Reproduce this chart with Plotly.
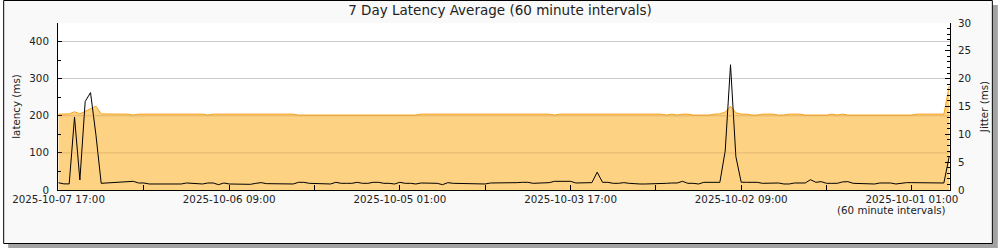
import pandas as pd
import plotly.graph_objects as go

# hourly samples, newest (left) to oldest (right)
times = pd.date_range(end="2025-10-07 17:00", periods=168, freq="h")[::-1]

latency_ms = [
    204.5, 204.5, 205, 211, 205, 212, 219, 226, 205, 204.5, 204.5, 204.5,
    204.5, 204.5, 202, 204.5, 204.5, 204.5, 204.5, 204.5, 204.5, 204.5, 204.5, 204.5,
    204.5, 204.5, 204.5, 204.5, 202, 204.5, 204.5, 204.5, 204.5, 204.5, 204.5, 204.5,
    204.5, 204.5, 204.5, 204.5, 204.5, 204.5, 204.5, 204.5, 204.5, 202, 202, 202,
    202, 202, 202, 202, 202, 202, 202, 202, 202, 202, 202, 202,
    202, 202, 202, 202, 202, 202, 202, 202, 204.5, 204.5, 204.5, 204.5,
    204.5, 204.5, 204.5, 204.5, 204.5, 204.5, 204.5, 204.5, 204.5, 204.5, 204.5, 204.5,
    204.5, 204.5, 204.5, 204.5, 204.5, 204.5, 204.5, 204.5, 204.5, 202, 204.5, 204.5,
    204.5, 204.5, 204.5, 204.5, 204.5, 204.5, 204.5, 204.5, 204.5, 204.5, 204.5, 204.5,
    204.5, 204.5, 204.5, 204.5, 204.5, 204.5, 202, 204.5, 202, 204.5, 204.5, 202,
    202, 202, 202, 204.5, 205, 210, 226, 208, 204.5, 204.5, 202, 202,
    204.5, 204.5, 204.5, 202, 202, 204.5, 204.5, 204.5, 202, 202, 202, 202,
    202, 204.5, 202, 204.5, 202, 202, 202, 202, 202, 202, 202, 202,
    202, 202, 202, 202, 202, 204.5, 204.5, 204.5, 204.5, 204.5, 204.5, 280,
]

jitter_ms = [
    1.3, 1.1, 1.1, 13.1, 1.8, 15.9, 17.5, 10.0, 1.2, 1.26, 1.26, 1.38,
    1.38, 1.38, 1.56, 1.26, 1.26, 1.08, 1.08, 1.08, 1.08, 1.08, 1.08, 1.08,
    1.26, 1.2, 1.08, 1.08, 1.26, 1.26, 0.96, 1.26, 1.08, 1.08, 1.02, 1.02,
    1.02, 1.2, 1.32, 1.14, 1.14, 1.14, 1.08, 1.08, 1.08, 1.38, 1.38, 1.2,
    1.2, 1.2, 1.2, 1.08, 1.38, 1.2, 1.2, 1.2, 1.38, 1.2, 1.2, 1.38,
    1.38, 1.2, 1.2, 1.08, 1.38, 1.2, 1.2, 1.08, 1.26, 1.26, 1.2, 1.2,
    0.96, 1.32, 1.2, 1.2, 1.2, 1.2, 1.2, 1.2, 1.08, 1.26, 1.26, 1.2,
    1.32, 1.32, 1.32, 1.38, 1.38, 1.2, 1.2, 1.32, 1.32, 1.56, 1.56, 1.56,
    1.56, 1.26, 1.26, 1.32, 1.32, 3.2, 1.38, 1.38, 1.2, 1.2, 1.32, 1.2,
    1.08, 1.08, 1.08, 1.08, 1.08, 1.2, 1.2, 1.26, 1.26, 1.56, 1.2, 1.2,
    1.08, 1.38, 1.38, 1.38, 1.38, 7.0, 22.5, 6.0, 1.4, 1.38, 1.38, 1.38,
    1.2, 1.2, 1.26, 1.26, 1.08, 1.08, 1.26, 1.26, 1.26, 1.85, 1.38, 1.5,
    1.2, 1.2, 1.2, 1.45, 1.5, 1.2, 1.2, 1.08, 1.08, 1.08, 1.26, 1.26,
    1.26, 1.08, 1.26, 1.32, 1.32, 1.32, 1.32, 1.32, 1.26, 1.26, 1.26, 6.0,
]

x_tick_times = [
    "2025-10-07 17:00", "2025-10-07 01:00", "2025-10-06 09:00", "2025-10-05 17:00",
    "2025-10-05 01:00", "2025-10-04 09:00", "2025-10-03 17:00", "2025-10-03 01:00",
    "2025-10-02 09:00", "2025-10-01 17:00", "2025-10-01 01:00",
]
x_tick_text = [
    "2025-10-07 17:00", "", "2025-10-06 09:00", "", "2025-10-05 01:00", "",
    "2025-10-03 17:00", "", "2025-10-02 09:00", "", "2025-10-01 01:00",
]
lat_ticks = [0, 100, 200, 300, 400]
jit_ticks = [0, 5, 10, 15, 20, 25, 30]

assert len(latency_ms) == 168 and len(jitter_ms) == 168

W, H = 1000, 250
L, R, T, B = 55, 50, 23, 60
PW, PH = W - L - R, H - T - B


def px(x):
    return (x - L) / PW


def py(y):
    return (H - B - y) / PH


FONT = "DejaVu Sans"
TXT = "#222222"
FS = 10.3

fig = go.Figure()
fig.add_trace(go.Scatter(
    x=times, y=latency_ms, mode="lines", fill="tozeroy",
    fillcolor="#FDD283", line=dict(color="#F7A31C", width=1),
    showlegend=False, hoverinfo="skip",
))
fig.add_trace(go.Scatter(
    x=times, y=jitter_ms, mode="lines", yaxis="y2",
    line=dict(color="#000000", width=1),
    showlegend=False, hoverinfo="skip",
))

shapes = [
    dict(type="rect", xref="paper", yref="paper", x0=px(5), x1=px(998), y0=py(248), y1=py(5),
         fillcolor="#A3A3A3", line=dict(width=0), layer="below"),
    dict(type="rect", xref="paper", yref="paper", x0=px(0.5), x1=px(992.5), y0=py(243.5), y1=py(0.5),
         fillcolor="#F9F9F9", line=dict(color="#000000", width=1), layer="below"),
    dict(type="rect", xref="paper", yref="paper", x0=0, x1=1, y0=0, y1=1,
         fillcolor="#FFFFFF", line=dict(width=0), layer="below"),
]
for g in (100, 200):
    shapes.append(dict(type="line", xref="paper", yref="y", x0=0, x1=1, y0=g, y1=g,
                       line=dict(color="rgba(179,127,63,0.33)", width=1), layer="above"))

fig.update_layout(
    width=W, height=H,
    margin=dict(l=L, r=R, t=T, b=B, pad=0),
    paper_bgcolor="#FFFFFF", plot_bgcolor="rgba(0,0,0,0)",
    font=dict(family=FONT, size=FS, color=TXT),
    title=dict(text="7 Day Latency Average (60 minute intervals)", x=0.5, xanchor="center",
               xref="container", y=1 - 10.5 / H, yanchor="middle", yref="container",
               font=dict(family=FONT, size=13.5, color=TXT)),
    showlegend=False,
    shapes=shapes,
    xaxis=dict(
        type="date", range=["2025-10-07 17:06", "2025-09-30 17:51"],
        tickvals=x_tick_times, ticktext=x_tick_text, tickangle=0,
        ticks="inside", ticklen=5, tickcolor="#000000", tickwidth=1,
        showline=True, linecolor="#000000", linewidth=1,
        showgrid=False, zeroline=False,
        tickfont=dict(family=FONT, size=FS, color=TXT),
    ),
    yaxis=dict(
        range=[0, 450], tickvals=lat_ticks,
        ticks="inside", ticklen=4, tickcolor="#000000", tickwidth=1,
        ticklabelstandoff=6,
        minor=dict(dtick=50, tick0=0, ticks="inside", ticklen=3, tickcolor="#000000", showgrid=False),
        showline=True, linecolor="#000000", linewidth=1,
        showgrid=True, gridcolor="#CBCBCB", gridwidth=1, zeroline=False,
        title=dict(text="latency (ms)", font=dict(family=FONT, size=FS, color=TXT), standoff=6),
        tickfont=dict(family=FONT, size=FS, color=TXT),
    ),
    yaxis2=dict(
        overlaying="y", side="right", range=[0, 30], tickvals=jit_ticks,
        ticks="inside", ticklen=5, tickcolor="#000000", tickwidth=1,
        ticklabelstandoff=5,
        minor=dict(dtick=1, tick0=0, ticks="inside", ticklen=3, tickcolor="#000000", showgrid=False),
        showline=True, linecolor="#000000", linewidth=1,
        showgrid=False, zeroline=False,
        title=dict(text="Jitter (ms)", font=dict(family=FONT, size=FS, color=TXT), standoff=10),
        tickfont=dict(family=FONT, size=FS, color=TXT),
    ),
    annotations=[dict(
        text="(60 minute intervals)", xref="paper", yref="paper",
        x=px(948), y=py(210), xanchor="right", yanchor="middle", showarrow=False,
        font=dict(family=FONT, size=FS, color=TXT),
    )],
)

fig.write_html("out.html")
